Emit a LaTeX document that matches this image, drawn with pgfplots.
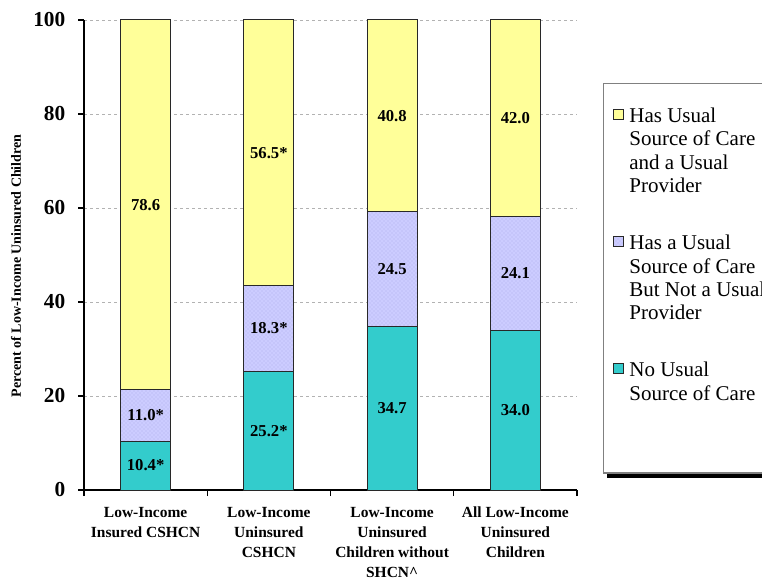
\documentclass[border=0pt]{standalone}
\usepackage{pgfplots}
\pgfplotsset{compat=1.18}
\usepackage{fontspec}
\setmainfont{Liberation Serif}
\usetikzlibrary{patterns}

\definecolor{usualprov}{RGB}{255,255,153}
\definecolor{usualonly}{RGB}{204,204,255}
\definecolor{usualdots}{RGB}{175,178,235}
\definecolor{nosource}{RGB}{51,204,204}
\definecolor{barline}{RGB}{40,40,40}

\newcommand{\valfont}{\fontsize{12.5}{14}\selectfont\bfseries}
\newcommand{\legtext}[1]{\parbox[t]{103.5pt}{\raggedright #1}}

\begin{document}
\begin{tikzpicture}
% legend box and axis title, in pixel-like units measured from the top left
\begin{scope}[x=0.75pt,y=-0.75pt]
  \fill[black] (607,473) rectangle (780,478);
  \draw[gray, fill=white, line width=0.9pt] (603.5,83.5) rectangle (790,473);
  \node[rotate=90, font=\fontsize{10.5}{12}\selectfont\bfseries] at (16,266)
    {Percent of Low-Income Uninsured Children};
\end{scope}

\begin{axis}[
  at={(63pt,-367.5pt)}, anchor=south west,
  scale only axis,
  width=369.75pt, height=352.5pt,
  xmin=-0.5, xmax=3.5, ymin=0, ymax=100,
  clip=false,
  ybar stacked, bar width=37.5pt,
  axis lines=left, axis line style={-, black, line width=0.8pt},
  tick align=outside,
  major tick length=4.5pt, minor tick length=4.5pt,
  ytick={0,20,40,60,80,100},
  xtick={0,1,2,3},
  minor xtick={-0.5,0.5,1.5,2.5,3.5},
  every major x tick/.append style={draw=none},
  every minor x tick/.append style={black, line width=0.8pt},
  every major y tick/.append style={black, line width=0.8pt},
  xticklabels={
    {Low-Income\\Insured CSHCN},
    {Low-Income\\Uninsured\\CSHCN},
    {Low-Income\\Uninsured\\Children without\\SHCN\textasciicircum},
    {All Low-Income\\Uninsured\\Children}},
  xticklabel style={align=center, font=\fontsize{11.6}{15}\selectfont\bfseries, yshift=-4.75pt},
  yticklabel style={font=\fontsize{16}{19}\selectfont\bfseries, xshift=-6pt},
  /pgf/number format/assume math mode=true,
  ymajorgrids=true,
  major grid style={gray!60, line width=0.6pt, dash pattern=on 2pt off 2.5pt},
  reverse legend,
  legend image code/.code={
    \draw[#1, line width=0.6pt] (0pt,-9pt) rectangle (7.5pt,-1.5pt);},
  legend style={
    at={(1.073,0.8138)}, anchor=north west,
    draw=none, fill=none, inner sep=0pt,
    font=\fontsize{15.75}{17.5}\selectfont,
    nodes={inner sep=0pt, text depth=, text height=},
    cells={anchor=north west},
    column sep=4pt,
    row sep=31.5pt},
  after end axis/.code={
    % segment values written at the middle of each segment
    \node[font=\valfont] at (axis cs:0,5.2)   {10.4*};
    \node[font=\valfont] at (axis cs:0,15.9)  {11.0*};
    \node[font=\valfont] at (axis cs:0,60.7)  {78.6};
    \node[font=\valfont] at (axis cs:1,12.6)  {25.2*};
    \node[font=\valfont] at (axis cs:1,34.35) {18.3*};
    \node[font=\valfont] at (axis cs:1,71.75) {56.5*};
    \node[font=\valfont] at (axis cs:2,17.35) {34.7};
    \node[font=\valfont] at (axis cs:2,46.95) {24.5};
    \node[font=\valfont] at (axis cs:2,79.6)  {40.8};
    \node[font=\valfont] at (axis cs:3,17.0)  {34.0};
    \node[font=\valfont] at (axis cs:3,46.05) {24.1};
    \node[font=\valfont] at (axis cs:3,79.1)  {42.0};
  },
]
\addplot[fill=nosource, draw=barline, line width=0.75pt]
  coordinates {(0,10.4) (1,25.2) (2,34.7) (3,34.0)};
\addlegendentry{\legtext{No Usual Source of Care}}
\addplot[fill=usualonly, draw=barline, line width=0.75pt,
  postaction={pattern=crosshatch dots, pattern color=usualdots}]
  coordinates {(0,11.0) (1,18.3) (2,24.5) (3,24.1)};
\addlegendentry{\legtext{Has a Usual Source of Care But Not a Usual Provider}}
\addplot[fill=usualprov, draw=barline, line width=0.75pt]
  coordinates {(0,78.6) (1,56.5) (2,40.8) (3,42.0)};
\addlegendentry{\legtext{Has Usual Source of Care and a Usual Provider}}
\end{axis}

% the page is exactly the 762 x 577 frame
\pgfresetboundingbox
\path[use as bounding box] (0pt,0pt) rectangle (571.5pt,-432.75pt);
\end{tikzpicture}
\end{document}
